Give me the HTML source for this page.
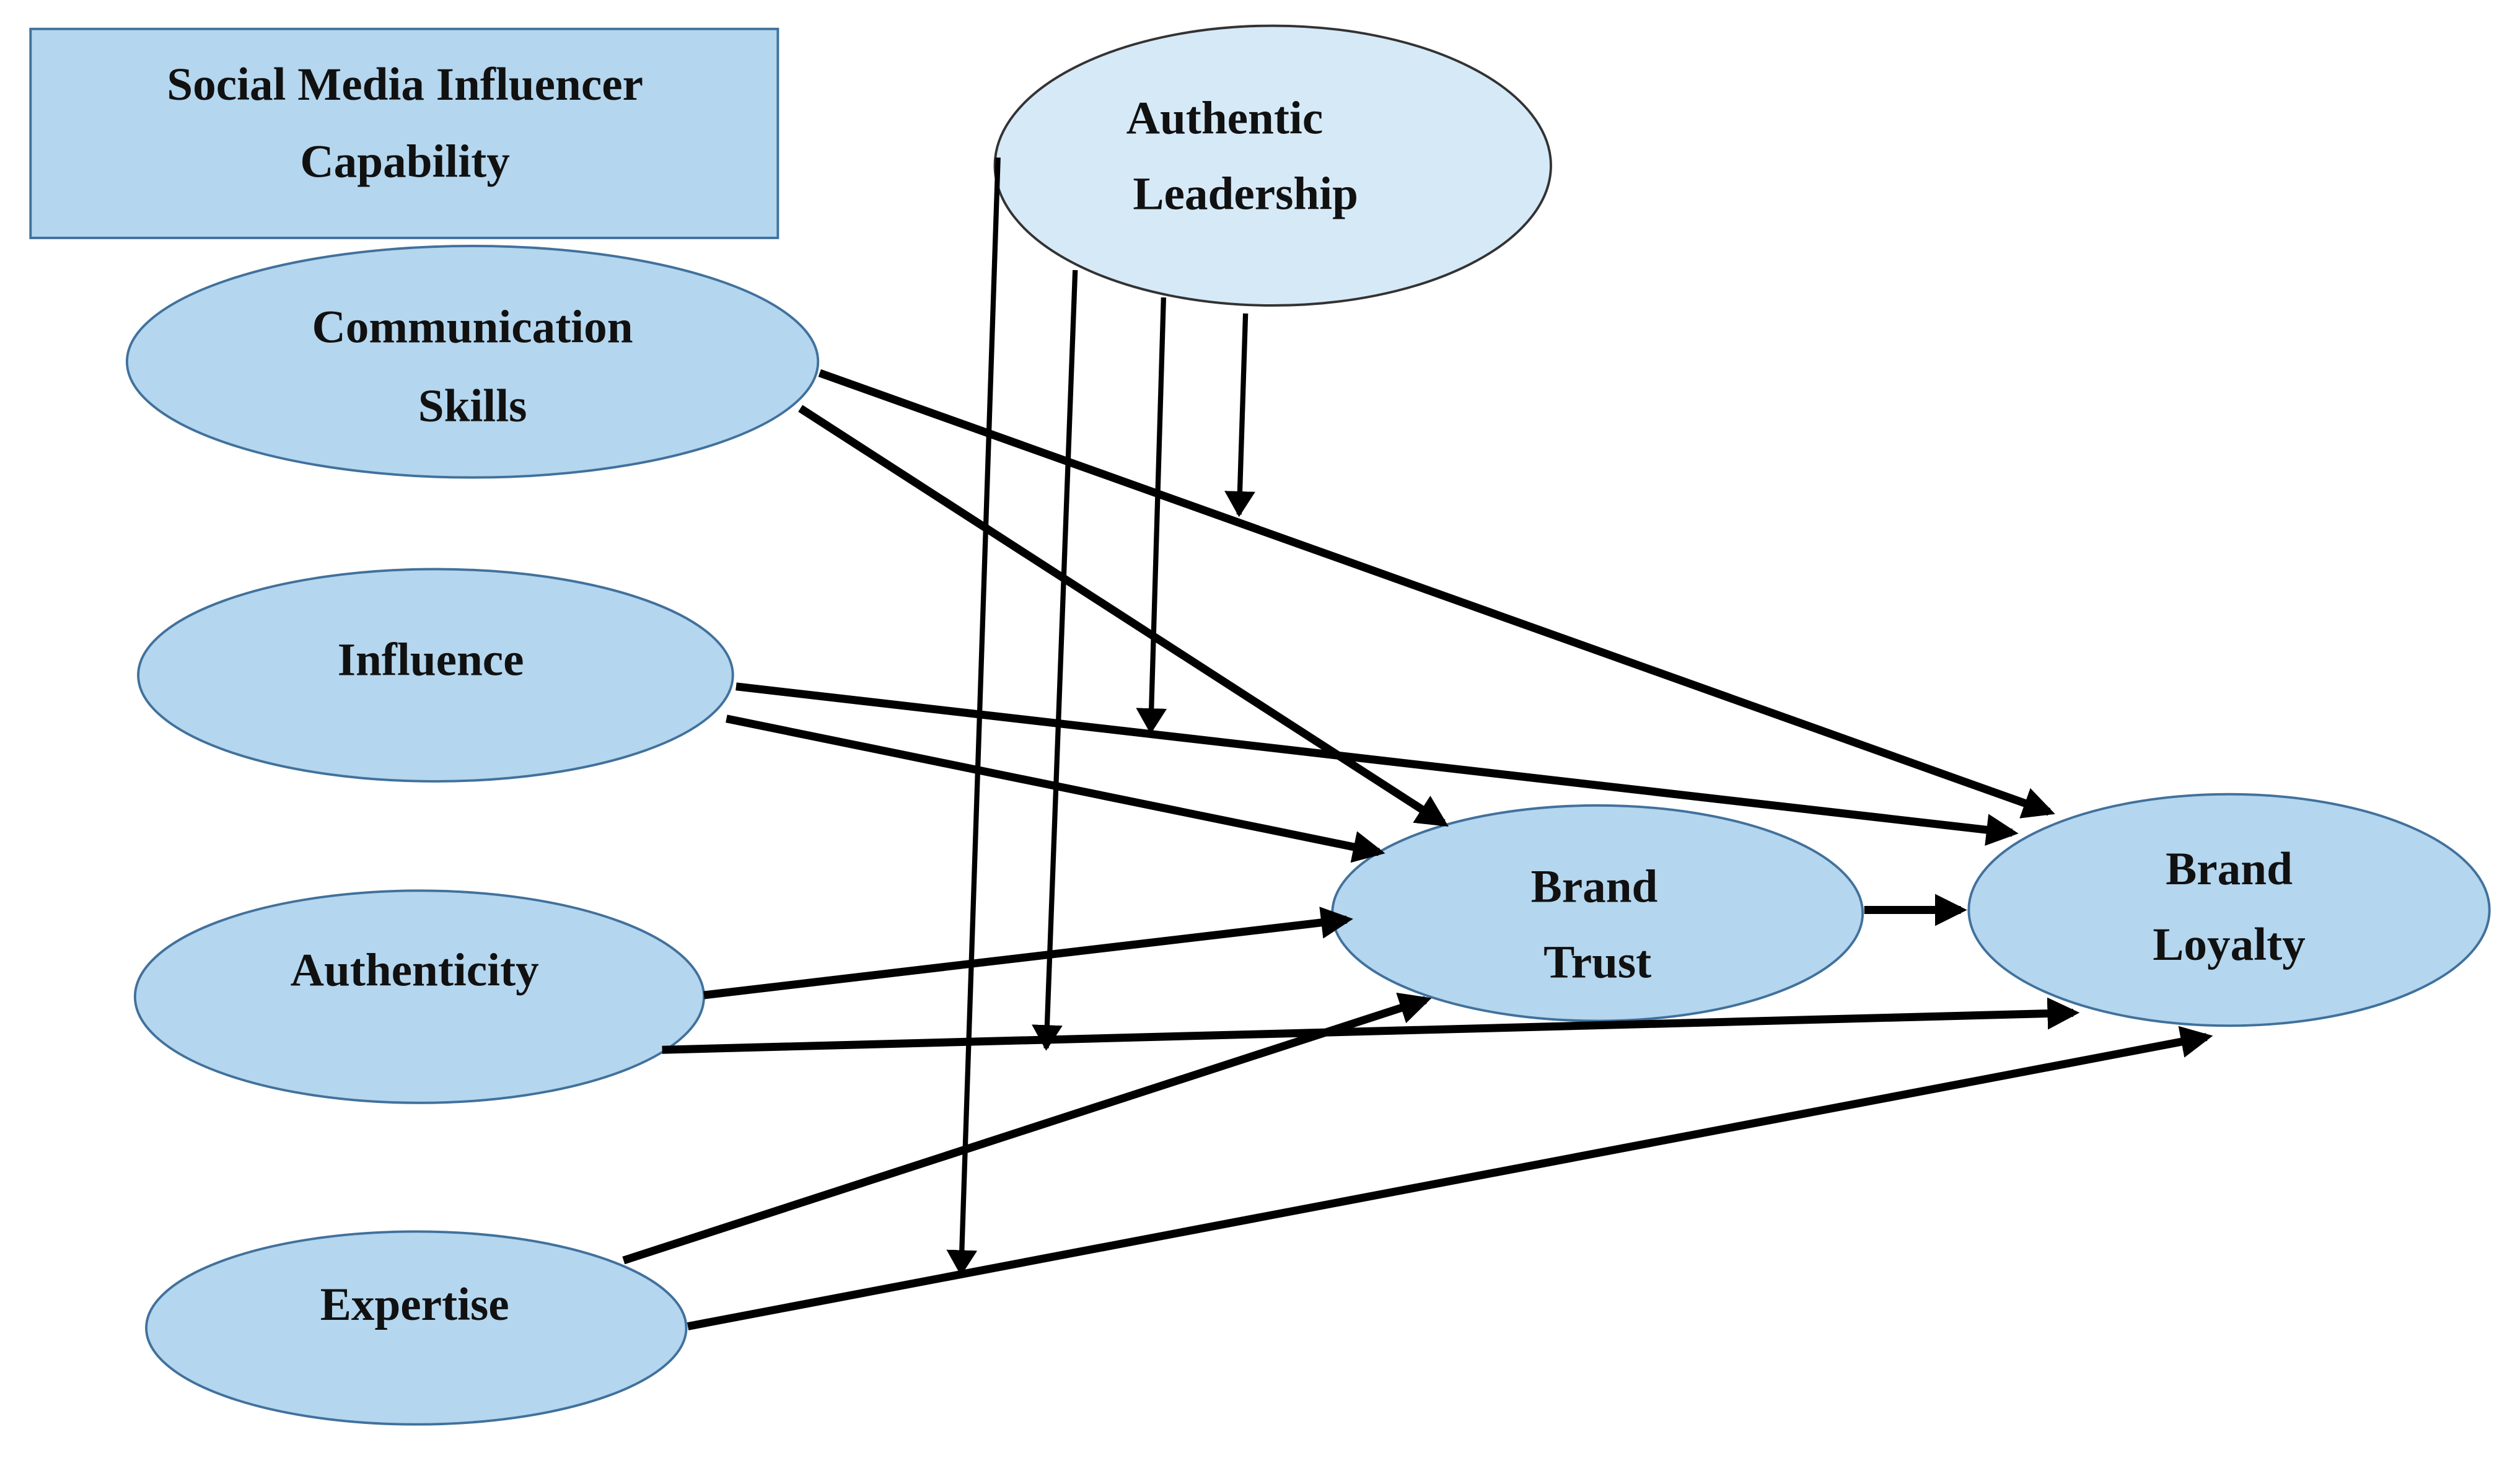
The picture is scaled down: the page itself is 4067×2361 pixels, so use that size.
<!DOCTYPE html>
<html><head><style>html,body{margin:0;padding:0;background:#fff}svg{display:block}</style></head>
<body>
<svg width="4067" height="2361" viewBox="0 0 1568 910" preserveAspectRatio="none" xmlns="http://www.w3.org/2000/svg">
<defs>
<marker id="a" markerWidth="4" markerHeight="4" refX="3.2" refY="2" orient="auto" markerUnits="strokeWidth"><path d="M0,0 L4,2 L0,4 z" fill="#000"/></marker>
<marker id="b" markerWidth="5" markerHeight="6" refX="4.5" refY="3" orient="auto" markerUnits="strokeWidth"><path d="M0,0 L5,3 L0,6 z" fill="#000"/></marker>
</defs>
<rect x="19" y="18" width="465" height="130" fill="#b4d6ee" stroke="#41719c" stroke-width="1.5"/>
<g font-family="Liberation Serif, serif" font-weight="bold" font-size="29" fill="#111" text-anchor="middle">
<text x="252" y="62">Social Media Influencer</text>
<text x="252" y="110">Capability</text>
</g>
<g fill="#b4d6ee" stroke="#41719c" stroke-width="1.5">
<ellipse cx="792" cy="103" rx="173" ry="87" fill="#d6e9f7" stroke="#333"/>
<ellipse cx="294" cy="225" rx="215" ry="72"/>
<ellipse cx="271" cy="420" rx="185" ry="66"/>
<ellipse cx="261" cy="620" rx="177" ry="66"/>
<ellipse cx="259" cy="826" rx="168" ry="60"/>
<ellipse cx="994" cy="568" rx="165" ry="67"/>
<ellipse cx="1387" cy="566" rx="162" ry="72"/>
</g>
<g stroke="#000" stroke-width="5" fill="none" marker-end="url(#a)">
<line x1="510" y1="232" x2="1275" y2="505"/>
<line x1="498" y1="254" x2="898" y2="512"/>
<line x1="458" y1="427" x2="1252" y2="518"/>
<line x1="452" y1="447" x2="858" y2="530"/>
<line x1="438" y1="619" x2="838" y2="572"/>
<line x1="412" y1="653" x2="1290" y2="630"/>
<line x1="388" y1="784" x2="887" y2="622"/>
<line x1="428" y1="825" x2="1373" y2="645"/>
<line x1="1160" y1="566" x2="1220" y2="566"/>
</g>
<g stroke="#000" stroke-width="3.2" fill="none" marker-end="url(#b)">
<line x1="621" y1="98" x2="598" y2="792"/>
<line x1="669" y1="168" x2="651" y2="652"/>
<line x1="724" y1="185" x2="716" y2="455"/>
<line x1="775" y1="195" x2="771" y2="320"/>
</g>
<g font-family="Liberation Serif, serif" font-weight="bold" font-size="29" fill="#111" text-anchor="middle">
<text x="762" y="83">Authentic</text>
<text x="775" y="130">Leadership</text>
<text x="294" y="213">Communication</text>
<text x="294" y="262">Skills</text>
<text x="268" y="420">Influence</text>
<text x="258" y="613">Authenticity</text>
<text x="258" y="821">Expertise</text>
<text x="992" y="561">Brand</text>
<text x="994" y="608">Trust</text>
<text x="1387" y="550">Brand</text>
<text x="1387" y="597">Loyalty</text>
</g>
</svg>
</body></html>
